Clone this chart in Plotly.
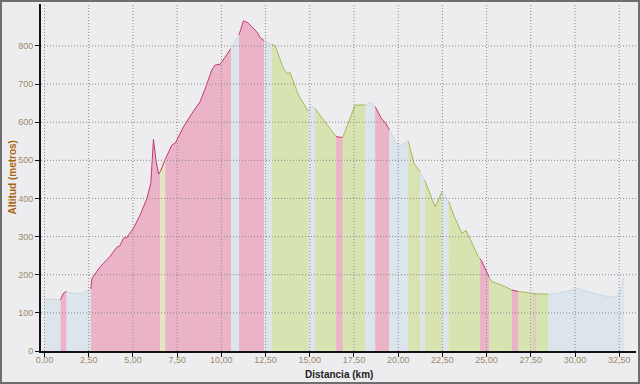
import plotly.graph_objects as go

# ---- data ----
distance_km = [0.0, 0.5, 0.9, 1.05, 1.15, 1.25, 1.6, 2.0, 2.4, 2.62, 2.68, 3.15, 3.7, 4.09, 4.24,
               4.47, 4.66, 5.03, 5.41, 5.79, 6.01, 6.16, 6.3, 6.45, 6.54, 6.83, 7.2, 7.39, 7.86,
               8.33, 8.8, 9.1, 9.46, 9.65, 9.93, 10.2, 10.5, 10.55, 11.0, 11.25, 11.5, 11.7, 12.0,
               12.2, 12.42, 12.85, 13.05, 13.51, 13.7, 13.89, 14.36, 14.92, 15.1, 15.3, 15.8,
               16.1, 16.49, 16.87, 17.2, 17.56, 18.13, 18.45, 18.7, 19.05, 19.3, 19.5, 19.9, 20.2,
               20.57, 20.9, 21.24, 21.5, 22.09, 22.48, 22.85, 23.2, 23.6, 23.84, 24.06, 24.53,
               24.63, 24.7, 24.9, 25.15, 25.3, 26.0, 26.42, 26.8, 27.3, 27.6, 27.8, 28.5, 29.0,
               29.6, 30.1, 30.6, 31.2, 31.6, 32.07, 32.45, 32.6, 32.77]
altitude_m = [137, 136, 134, 150, 155, 155, 151, 151, 157, 163, 190, 221, 248, 272, 275,
              296, 298, 322, 357, 400, 440, 555, 501, 464, 470, 503, 540, 545, 588,
              623, 654, 690, 737, 750, 752, 770, 789, 794, 829, 866, 861, 852, 837,
              822, 814, 804, 800, 741, 728, 730, 671, 628, 645, 636, 606,
              585, 562, 560, 600, 645, 645, 652, 641, 610, 597, 580, 545, 540,
              551, 492, 470, 448, 378, 418, 392, 350, 309, 316, 295, 247,
              242, 238, 218, 193, 182, 170, 160, 156, 152, 151, 150, 149, 151,
              157, 164, 158, 150, 145, 141, 145, 162, 195]

seg_start = [0.0, 0.9, 1.25, 2.62, 6.54, 6.83, 10.55, 11.0, 12.42, 12.85, 14.92, 15.3, 16.49,
             16.87, 18.13, 18.7, 19.5, 20.57, 21.24, 21.5, 22.48, 22.85, 24.63, 25.15, 26.42,
             26.8, 27.6, 27.8, 28.5]
seg_end = [0.9, 1.25, 2.62, 6.54, 6.83, 10.55, 11.0, 12.42, 12.85, 14.92, 15.3, 16.49, 16.87,
           18.13, 18.7, 19.5, 20.57, 21.24, 21.5, 22.48, 22.85, 24.63, 25.15, 26.42, 26.8,
           27.6, 27.8, 28.5, 32.77]
seg_type = ["llano", "subida", "llano", "subida", "mixto", "subida", "llano", "subida", "llano",
            "bajada", "llano", "bajada", "subida", "bajada", "llano", "subida", "llano",
            "bajada", "llano", "bajada", "llano", "bajada", "subida", "bajada", "subida",
            "bajada", "mixto2", "bajada", "llano"]

x_tickvals = [0, 2.5, 5, 7.5, 10, 12.5, 15, 17.5, 20, 22.5, 25, 27.5, 30, 32.5]
x_ticktext = ["0,00", "2,50", "5,00", "7,50", "10,00", "12,50", "15,00", "17,50", "20,00",
              "22,50", "25,00", "27,50", "30,00", "32,50"]
y_tickvals = [0, 100, 200, 300, 400, 500, 600, 700, 800]
y_ticktext = ["0", "100", "200", "300", "400", "500", "600", "700", "800"]

# ---- styles ----
fill_colors = {"subida": "#EBB3C8", "bajada": "#D8E3B2", "llano": "#DCE5EB",
               "mixto": "#E6E3BF", "mixto2": "#DECBB9"}
line_colors = {"subida": "#C4386D", "bajada": "#A3B95A", "llano": "#CBD9E2",
               "mixto": "#C4386D", "mixto2": "#B89A86"}
BG = "#EDEDF0"

fig = go.Figure()
for s0, s1, t in zip(seg_start, seg_end, seg_type):
    xs = [d for d in distance_km if s0 - 1e-9 <= d <= s1 + 1e-9]
    ys = [a for d, a in zip(distance_km, altitude_m) if s0 - 1e-9 <= d <= s1 + 1e-9]
    fig.add_trace(go.Scatter(x=xs, y=ys, mode="lines", fill="tozeroy",
                             fillcolor=fill_colors[t],
                             line=dict(color=line_colors[t], width=1),
                             showlegend=False, hoverinfo="skip"))

L, R, T, B = 41, 4, 4, 33
W, H = 640, 384
pw, ph = W - L - R, H - T - B

grid_line = dict(color="#8A8A8A", width=1, dash="1px,2px")
shapes = []
for v in x_tickvals:
    shapes.append(dict(type="line", xref="x", yref="y domain", x0=v, x1=v, y0=0, y1=1,
                       line=grid_line, layer="above"))
for v in y_tickvals[1:]:
    shapes.append(dict(type="line", xref="x domain", yref="y", x0=0, x1=1, y0=v, y1=v,
                       line=grid_line, layer="above"))
# outer frame
shapes.append(dict(type="rect", xref="paper", yref="paper",
                   x0=(1 - L) / pw, x1=(W - 1 - L) / pw,
                   y0=-(B - 1) / ph, y1=(ph + T - 1) / ph,
                   line=dict(color="#6E6E6E", width=2), fillcolor="rgba(0,0,0,0)", layer="above"))

tick_font = dict(family="Liberation Sans, Arial, sans-serif", size=9, color="#9A8A6C")

fig.update_layout(
    width=W, height=H,
    margin=dict(l=L, r=R, t=T, b=B, pad=0),
    paper_bgcolor=BG, plot_bgcolor=BG,
    shapes=shapes,
    xaxis=dict(range=[-0.2, 33.45], tickvals=x_tickvals, ticktext=x_ticktext,
               showgrid=False, zeroline=False, showline=True, linecolor="#111111", linewidth=2,
               ticks="outside", ticklen=4, tickcolor="#111111", tickfont=tick_font,
               ticklabelstandoff=-5, layer="above traces"),
    yaxis=dict(range=[0, 910], tickvals=y_tickvals, ticktext=y_ticktext,
               showgrid=False, zeroline=False, showline=True, linecolor="#111111", linewidth=2,
               ticks="outside", ticklen=4, tickcolor="#111111", tickfont=tick_font,
               layer="above traces"),
    annotations=[
        dict(text="<b>Distancia (km)</b>", xref="paper", yref="paper", x=0.5, y=0,
             xanchor="center", yanchor="middle", yshift=-23, showarrow=False,
             font=dict(family="Liberation Sans, Arial, sans-serif", size=10, color="#222222")),
        dict(text="<b>Altitud (metros)</b>", xref="paper", yref="paper", x=0, y=0.5,
             xanchor="center", yanchor="middle", xshift=-29, textangle=-90, showarrow=False,
             font=dict(family="Liberation Sans, Arial, sans-serif", size=10, color="#A8650F")),
    ],
)

fig.write_html("out.html", config={"displayModeBar": False},
               post_script="document.body.style.margin='0px';document.body.style.overflow='hidden';")
